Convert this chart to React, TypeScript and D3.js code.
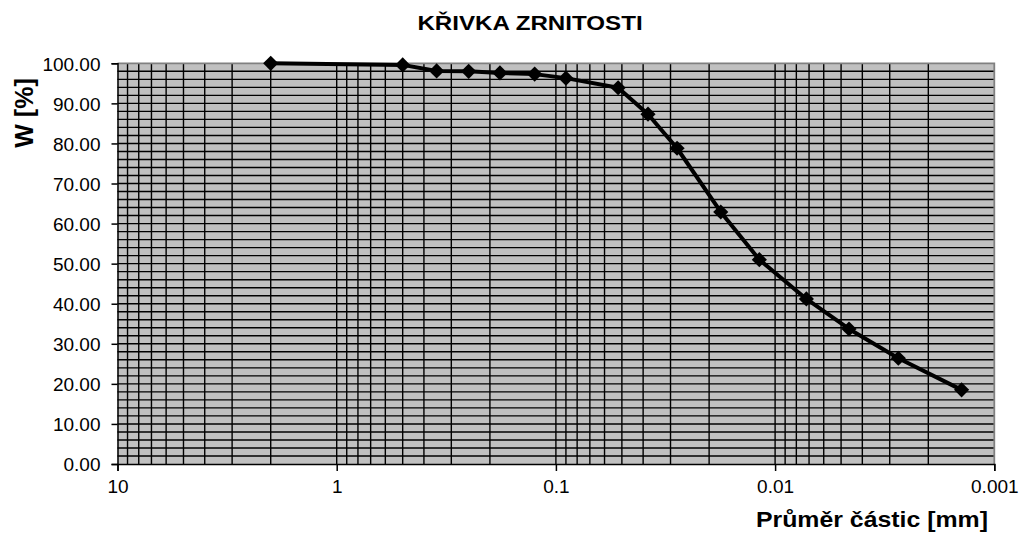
import React, { useEffect, useRef } from 'react';
import * as d3 from 'd3';

// grain size curve
const diameters = [2.0, 0.5, 0.35, 0.25, 0.18, 0.125, 0.09, 0.052, 0.038, 0.028, 0.0177, 0.0118, 0.0072, 0.0046, 0.00274, 0.00141];
const passing = [100, 99.6, 98.1, 98.0, 97.6, 97.3, 96.3, 93.9, 87.3, 78.8, 62.9, 51.0, 41.2, 33.7, 26.4, 18.5];
const xTicks = [10, 1, 0.1, 0.01, 0.001];
const xTickLabels = ['10', '1', '0.1', '0.01', '0.001'];
const yTicks = [0, 10, 20, 30, 40, 50, 60, 70, 80, 90, 100];

const title = 'KŘIVKA ZRNITOSTI';
const yTitle = 'W [%]';
const xTitle = 'Průměr částic [mm]';

const App: React.FC = () => {
  const ref = useRef<SVGSVGElement>(null);

  useEffect(() => {
    if (!ref.current) return;
    const svg = d3.select(ref.current);
    svg.selectAll('*').remove();

    const left = 117.5, right = 994.3, top = 63.3, bottom = 464;
    const font = '"Liberation Sans", Arial, sans-serif';

    const x = d3.scaleLog().domain([10, 0.001]).range([left, right]);
    const y = d3.scaleLinear().domain([0, 100]).range([bottom, top]);

    // plot background
    svg.append('rect')
      .attr('x', left).attr('y', top)
      .attr('width', right - left).attr('height', bottom - top)
      .attr('fill', '#c0c0c0');

    // horizontal grid every 2 %
    const hGrid = d3.range(2, 100, 2);
    svg.append('g').selectAll('line').data(hGrid).join('line')
      .attr('x1', left).attr('x2', right)
      .attr('y1', d => y(d)).attr('y2', d => y(d))
      .attr('stroke', '#000').attr('stroke-width', 1.4);

    // vertical log grid (1..9 in each decade)
    const vGrid: number[] = [];
    [1, 0.1, 0.01, 0.001].forEach(dec => {
      for (let k = 1; k <= 9; k++) vGrid.push(dec * k);
    });
    svg.append('g').selectAll('line').data(vGrid.filter(v => v < 10 && v > 0.001)).join('line')
      .attr('x1', d => x(d)).attr('x2', d => x(d))
      .attr('y1', top).attr('y2', bottom)
      .attr('stroke', '#000').attr('stroke-width', 1.4);

    // plot border (top / right grey)
    svg.append('path')
      .attr('d', `M${left},${top}H${right}V${bottom}`)
      .attr('fill', 'none').attr('stroke', '#808080').attr('stroke-width', 1.8);

    // axes
    const yAxis = svg.append('g').attr('transform', `translate(${left},0)`)
      .call(d3.axisLeft(y).tickValues(yTicks).tickSize(6).tickFormat(d => (+d).toFixed(2)));
    yAxis.select('.domain').attr('stroke', '#000').attr('stroke-width', 1.5);
    yAxis.selectAll('.tick line').attr('stroke', '#000').attr('stroke-width', 1.5);
    yAxis.selectAll('.tick text')
      .attr('x', -17).attr('dy', '0.36em')
      .attr('font-family', font).attr('font-size', 19).attr('fill', '#000');

    const xAxis = svg.append('g').attr('transform', `translate(0,${bottom})`)
      .call(d3.axisBottom(x).tickValues(xTicks).tickSize(7).tickFormat((d, i) => xTickLabels[i]));
    xAxis.select('.domain').attr('stroke', '#000').attr('stroke-width', 1.5);
    xAxis.selectAll('.tick line').attr('stroke', '#000').attr('stroke-width', 1.5);
    xAxis.selectAll('.tick text')
      .attr('y', 16).attr('dy', '0.71em')
      .attr('font-family', font).attr('font-size', 19).attr('fill', '#000');

    // curve
    const pts = diameters.map((d, i) => [d, passing[i]] as [number, number]);
    svg.append('path')
      .datum(pts)
      .attr('fill', 'none').attr('stroke', '#000').attr('stroke-width', 4)
      .attr('stroke-linejoin', 'round')
      .attr('d', d3.line<[number, number]>().x(d => x(d[0])).y(d => y(d[1])));

    svg.append('g').selectAll('path').data(pts).join('path')
      .attr('transform', d => `translate(${x(d[0])},${y(d[1])}) rotate(45)`)
      .attr('d', d3.symbol(d3.symbolSquare, 115)())
      .attr('fill', '#000');

    // titles
    svg.append('text')
      .attr('transform', 'translate(530,30) scale(1.15,1)').attr('text-anchor', 'middle')
      .attr('font-family', font).attr('font-weight', 'bold').attr('font-size', 21)
      .text(title);

    svg.append('text')
      .attr('transform', 'translate(33,113) rotate(-90)').attr('text-anchor', 'middle')
      .attr('font-family', font).attr('font-weight', 'bold').attr('font-size', 25)
      .text(yTitle);

    svg.append('text')
      .attr('transform', 'translate(988,527) scale(1.13,1)').attr('text-anchor', 'end')
      .attr('font-family', font).attr('font-weight', 'bold').attr('font-size', 22)
      .text(xTitle);
  }, []);

  return (
    <svg
      ref={ref}
      width={1020}
      height={540}
      style={{ position: 'absolute', left: 0, top: 0, background: '#fff' }}
    />
  );
};

export default App;
